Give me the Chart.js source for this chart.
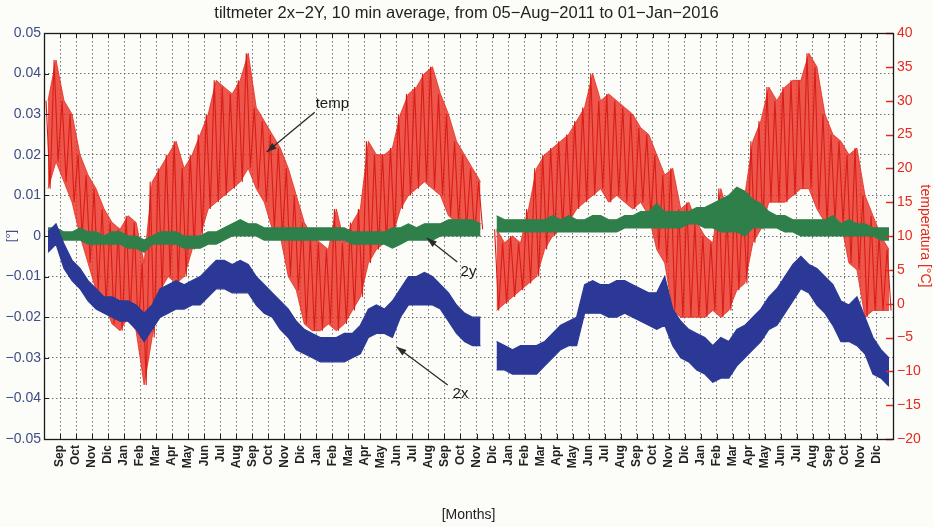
<!DOCTYPE html>
<html>
<head>
<meta charset="utf-8">
<script src="https://cdn.jsdelivr.net/npm/chart.js@4"></script>
<style>
  html, body { margin: 0; padding: 0; background: #fcfcf8; overflow: hidden; }
  #wrap { width: 933px; height: 527px; position: relative; }
</style>
</head>
<body>
<div id="wrap"><canvas id="tiltChart"></canvas></div>
<script>
// month ticks, Sep 2011 .. Dic 2015 (tick k sits at month k after Aug 2011)
const monthLabels = [
  "Sep", "Oct", "Nov", "Dic",
  "Jan", "Feb", "Mar", "Apr", "May", "Jun", "Jul", "Aug", "Sep", "Oct", "Nov", "Dic",
  "Jan", "Feb", "Mar", "Apr", "May", "Jun", "Jul", "Aug", "Sep", "Oct", "Nov", "Dic",
  "Jan", "Feb", "Mar", "Apr", "May", "Jun", "Jul", "Aug", "Sep", "Oct", "Nov", "Dic",
  "Jan", "Feb", "Mar", "Apr", "May", "Jun", "Jul", "Aug", "Sep", "Oct", "Nov", "Dic",
];

// half-month high / low readings, two per month from Aug 2011
const tempHi = [
  30, 36, 30, 28, 22, 19, 17, 14, 12, 11, 13, 12, 6, 18, 20, 22, 24, 20, 22, 25,
  28, 33, 32, 31, 33, 37, 29, 27, 25, 23, 20, 16, 12, 10, 9, 8, 14, 9, 12, 14,
  24, 22, 22, 23, 28, 31, 32, 34, 35, 31, 28, 24, 22, 20, 18, null, 11, 9, 10, 9,
  14, 20, 22, 23, 24, 25, 27, 29, 34, 30, 31, 30, 29, 28, 26, 25, 22, 19, 20, 14,
  15, 12, 10, 9, 17, 13, 17, 16, 24, 27, 32, 30, 32, 33, 33, 37, 35, 28, 25, 24,
  22, 23, 16, 13, 10, 8,
];
const tempLo = [
  17, 21, 18, 15, 10, 6, 2, 0, -3, -4, -2, -4, -12, -5, 2, 4, 3, 4, 8, 10,
  14, 15, 16, 17, 18, 20, 17, 15, 11, 10, 4, 2, -3, -4, -4, -3, -4, -3, -1, 1,
  6, 8, 9, 10, 14, 16, 17, 18, 17, 16, 13, 12, 11, 10, 11, null, -1, 0, 1, 2,
  3, 4, 8, 10, 11, 12, 14, 15, 16, 17, 15, 16, 15, 14, 15, 13, 8, 6, -1, -2,
  -2, -2, -2, -1, -2, -1, 2, 3, 9, 11, 15, 15, 15, 16, 17, 17, 14, 12, 12, 12,
  6, 5, -2, -1, -1, -1,
];
const tilt2xHi = [
  0.001, 0.003, -0.002, -0.006, -0.008, -0.011, -0.013, -0.015, -0.015, -0.016,
  -0.016, -0.017, -0.019, -0.017, -0.013, -0.012, -0.011, -0.012, -0.011, -0.010,
  -0.008, -0.006, -0.006, -0.007, -0.006, -0.007, -0.010, -0.012, -0.014, -0.016,
  -0.018, -0.021, -0.023, -0.024, -0.025, -0.025, -0.025, -0.024, -0.024, -0.022,
  -0.018, -0.017, -0.018, -0.016, -0.013, -0.010, -0.010, -0.009, -0.010, -0.012,
  -0.014, -0.017, -0.019, -0.020, -0.020, null, -0.026, -0.027, -0.028, -0.027,
  -0.027, -0.027, -0.026, -0.024, -0.022, -0.021, -0.020, -0.012, -0.011, -0.012,
  -0.012, -0.011, -0.011, -0.012, -0.013, -0.014, -0.014, -0.010, -0.018, -0.021,
  -0.023, -0.024, -0.025, -0.027, -0.025, -0.026, -0.023, -0.022, -0.020, -0.018,
  -0.015, -0.013, -0.010, -0.007, -0.005, -0.007, -0.008, -0.010, -0.012, -0.016,
  -0.017, -0.015, -0.020, -0.025, -0.028, -0.030,
];
const tilt2xLo = [
  -0.004, -0.002, -0.008, -0.011, -0.013, -0.016, -0.018, -0.019, -0.020, -0.021,
  -0.021, -0.023, -0.026, -0.023, -0.020, -0.019, -0.018, -0.018, -0.017, -0.017,
  -0.015, -0.013, -0.013, -0.014, -0.014, -0.014, -0.017, -0.019, -0.020, -0.023,
  -0.025, -0.028, -0.029, -0.030, -0.031, -0.031, -0.031, -0.031, -0.030, -0.029,
  -0.025, -0.024, -0.024, -0.025, -0.020, -0.017, -0.017, -0.017, -0.017, -0.018,
  -0.021, -0.024, -0.026, -0.027, -0.027, null, -0.033, -0.033, -0.034, -0.034,
  -0.034, -0.034, -0.032, -0.030, -0.028, -0.027, -0.027, -0.019, -0.019, -0.019,
  -0.020, -0.020, -0.019, -0.020, -0.021, -0.022, -0.023, -0.022, -0.027, -0.030,
  -0.031, -0.033, -0.034, -0.036, -0.035, -0.035, -0.032, -0.030, -0.028, -0.026,
  -0.023, -0.022, -0.019, -0.016, -0.013, -0.014, -0.017, -0.019, -0.022, -0.026,
  -0.026, -0.027, -0.029, -0.034, -0.035, -0.037,
];
const tilt2yHi = [
  0.002, 0.002, 0.001, 0.001, 0.002, 0.001, 0.001, 0.000, 0.001, 0.001,
  0.000, 0.000, -0.001, 0.000, 0.001, 0.001, 0.001, 0.000, 0.000, 0.000,
  0.001, 0.001, 0.002, 0.003, 0.004, 0.003, 0.003, 0.002, 0.002, 0.002,
  0.002, 0.002, 0.002, 0.002, 0.002, 0.002, 0.002, 0.002, 0.001, 0.001,
  0.001, 0.001, 0.001, 0.002, 0.002, 0.003, 0.002, 0.003, 0.003, 0.003,
  0.004, 0.004, 0.004, 0.004, 0.003, null, 0.005, 0.004, 0.004, 0.004,
  0.004, 0.004, 0.004, 0.005, 0.004, 0.005, 0.004, 0.004, 0.005, 0.005,
  0.004, 0.004, 0.005, 0.005, 0.006, 0.006, 0.008, 0.006, 0.006, 0.006,
  0.006, 0.007, 0.007, 0.008, 0.009, 0.010, 0.012, 0.011, 0.009, 0.008,
  0.006, 0.005, 0.005, 0.004, 0.004, 0.004, 0.004, 0.004, 0.005, 0.003,
  0.004, 0.003, 0.003, 0.002, 0.002, 0.002,
];
const tilt2yLo = [
  -0.001, -0.001, -0.001, -0.001, -0.001, -0.002, -0.002, -0.002, -0.002, -0.002,
  -0.003, -0.003, -0.004, -0.002, -0.002, -0.002, -0.002, -0.003, -0.003, -0.003,
  -0.002, -0.002, -0.001, 0.000, 0.000, 0.000, 0.000, -0.001, -0.001, -0.001,
  -0.001, -0.001, -0.001, -0.001, -0.001, -0.001, -0.001, -0.001, -0.002, -0.002,
  -0.002, -0.002, -0.002, -0.003, -0.002, -0.001, -0.001, -0.001, -0.001, 0.000,
  0.000, 0.000, 0.000, 0.000, 0.000, null, 0.001, 0.001, 0.001, 0.001,
  0.001, 0.001, 0.001, 0.001, 0.001, 0.001, 0.001, 0.001, 0.001, 0.001,
  0.001, 0.001, 0.002, 0.002, 0.002, 0.002, 0.002, 0.002, 0.002, 0.002,
  0.003, 0.003, 0.002, 0.002, 0.001, 0.001, 0.001, 0.000, 0.002, 0.002,
  0.002, 0.002, 0.001, 0.001, 0.000, 0.000, 0.000, 0.000, 0.000, 0.000,
  0.000, 0.000, 0.000, 0.000, -0.001, -0.001,
];

// arrow notes: [month, value] on the named axis
const arrowNotes = [
  { text: "temp", axis: "y2", tip: [13.9, 22.4], tail: [16.9, 28.3], label: [18.0, 29.6] },
  { text: "2y", axis: "y", tip: [23.9, -0.0005], tail: [25.8, -0.0064], label: [26.5, -0.0089] },
  { text: "2x", axis: "y", tip: [22.0, -0.0273], tail: [25.2, -0.0367], label: [26.0, -0.0390] },
];

const RED = "#e62a20";
const BLUE = "#2b3896";
const GREEN = "#2f7f4a";
const LEFT_TXT = "#3f4c86";
const FONT = "'Liberation Sans', Arial, sans-serif";

// envelope edge, one point per half month
function edge(values) {
  return values.map((v, i) => ({ x: i * 0.5 + 0.25, y: v }));
}

// high then low inside each half month, gives the spiky texture
function zigzag(hi, lo) {
  const points = [];
  hi.forEach((h, i) => {
    const t = i * 0.5 + 0.13;
    points.push({ x: t, y: h });
    points.push({ x: t + 0.25, y: lo[i] });
  });
  return points;
}

function minus(text) {
  return text.replace("-", "\u2212");
}

const frameAndTicks = {
  id: "frameAndTicks",
  afterDatasetsDraw(chart) {
    const { ctx, chartArea: a, scales } = chart;
    ctx.save();
    ctx.strokeStyle = "#1e1e1e";
    ctx.lineWidth = 1;
    ctx.beginPath();
    scales.x.ticks.forEach((t) => {
      const x = Math.round(scales.x.getPixelForValue(t.value)) + 0.5;
      ctx.moveTo(x, a.bottom); ctx.lineTo(x, a.bottom - 5);
      ctx.moveTo(x, a.top); ctx.lineTo(x, a.top + 5);
    });
    scales.y.ticks.forEach((t) => {
      const y = Math.round(scales.y.getPixelForValue(t.value)) + 0.5;
      ctx.moveTo(a.left, y); ctx.lineTo(a.left + 5, y);
    });
    ctx.stroke();

    ctx.strokeStyle = RED;
    ctx.lineWidth = 1.6;
    ctx.beginPath();
    scales.y2.ticks.forEach((t) => {
      const y = Math.round(scales.y2.getPixelForValue(t.value)) + 0.5;
      ctx.moveTo(a.right - 7, y); ctx.lineTo(a.right, y);
    });
    ctx.stroke();

    ctx.strokeStyle = "#1a1a1a";
    ctx.lineWidth = 1.3;
    ctx.strokeRect(a.left + 0.5, a.top + 0.5, a.width, a.height);
    ctx.restore();
  },
};

const notes = {
  id: "notes",
  afterDraw(chart) {
    const { ctx, scales } = chart;
    ctx.save();
    arrowNotes.forEach((n) => {
      const ys = scales[n.axis];
      const px = (p) => [scales.x.getPixelForValue(p[0]), ys.getPixelForValue(p[1])];
      const [tx, ty] = px(n.tip);
      const [sx, sy] = px(n.tail);
      const [lx, ly] = px(n.label);
      const ang = Math.atan2(ty - sy, tx - sx);
      ctx.strokeStyle = "#2a2a2a";
      ctx.fillStyle = "#2a2a2a";
      ctx.lineWidth = 1.3;
      ctx.beginPath();
      ctx.moveTo(sx, sy);
      ctx.lineTo(tx, ty);
      ctx.stroke();
      ctx.beginPath();
      ctx.moveTo(tx, ty);
      ctx.lineTo(tx - 10 * Math.cos(ang) + 3.5 * Math.sin(ang), ty - 10 * Math.sin(ang) - 3.5 * Math.cos(ang));
      ctx.lineTo(tx - 10 * Math.cos(ang) - 3.5 * Math.sin(ang), ty - 10 * Math.sin(ang) + 3.5 * Math.cos(ang));
      ctx.closePath();
      ctx.fill();
      ctx.fillStyle = "#1a1a1a";
      ctx.font = "15px " + FONT;
      ctx.textAlign = "center";
      ctx.textBaseline = "middle";
      ctx.fillText(n.text, lx, ly);
    });
    ctx.restore();
  },
};

new Chart(document.getElementById("tiltChart"), {
  type: "line",
  data: {
    datasets: [
      {
        label: "2x",
        data: edge(tilt2xHi),
        yAxisID: "y",
        borderColor: BLUE,
        backgroundColor: BLUE,
        borderWidth: 1.2,
        fill: "+1",
        order: 1,
      },
      {
        label: "2x low",
        data: edge(tilt2xLo),
        yAxisID: "y",
        borderColor: BLUE,
        borderWidth: 1.2,
        fill: false,
        order: 1,
      },
      {
        label: "2y",
        data: edge(tilt2yHi),
        yAxisID: "y",
        borderColor: GREEN,
        backgroundColor: GREEN,
        borderWidth: 1.2,
        fill: "+1",
        order: 2,
      },
      {
        label: "2y low",
        data: edge(tilt2yLo),
        yAxisID: "y",
        borderColor: GREEN,
        borderWidth: 1.2,
        fill: false,
        order: 2,
      },
      {
        label: "temp spikes",
        data: zigzag(tempHi, tempLo),
        yAxisID: "y2",
        borderColor: "#d81e16",
        borderWidth: 1.1,
        fill: false,
        order: 3,
      },
      {
        label: "temp",
        data: edge(tempHi),
        yAxisID: "y2",
        borderColor: "rgba(230,42,32,0.8)",
        backgroundColor: "rgba(234,44,32,0.8)",
        borderWidth: 1,
        fill: "+1",
        order: 4,
      },
      {
        label: "temp low",
        data: edge(tempLo),
        yAxisID: "y2",
        borderColor: "rgba(230,42,32,0.8)",
        borderWidth: 1,
        fill: false,
        order: 4,
      },
    ],
  },
  options: {
    responsive: true,
    maintainAspectRatio: false,
    animation: false,
    spanGaps: false,
    elements: { point: { radius: 0 }, line: { tension: 0 } },
    layout: { padding: 0 },
    plugins: {
      legend: { display: false },
      tooltip: { enabled: false },
      title: {
        display: true,
        text: "tiltmeter 2x\u22122Y, 10 min average, from 05\u2212Aug\u22122011 to 01\u2212Jan\u22122016",
        color: "#222",
        font: { family: FONT, size: 16.5, weight: "normal" },
        padding: { top: 4, bottom: 9.2 },
      },
    },
    scales: {
      x: {
        type: "linear",
        min: 0,
        max: 53,
        afterBuildTicks: (scale) => {
          scale.ticks = monthLabels.map((_, k) => ({ value: k + 1 }));
        },
        afterFit: (scale) => { scale.height = 88; },
        ticks: {
          autoSkip: false,
          minRotation: 90,
          maxRotation: 90,
          padding: 6,
          color: "#222",
          font: { family: FONT, size: 12, weight: "bold" },
          callback: (v) => monthLabels[v - 1],
        },
        grid: {
          color: "rgba(70,70,70,0.75)",
          lineWidth: 1,
          drawTicks: false,
        },
        border: { display: false, dash: [1.5, 2.5] },
        title: {
          display: true,
          text: "[Months]",
          color: "#222",
          font: { family: FONT, size: 14 },
          padding: { top: 0, bottom: 3.5 },
        },
      },
      y: {
        position: "left",
        min: -0.05,
        max: 0.05,
        afterFit: (scale) => { scale.width = 44; },
        ticks: {
          stepSize: 0.01,
          padding: 3,
          color: LEFT_TXT,
          font: { family: FONT, size: 14 },
          callback: (v) => {
            const r = Math.round(v * 100) / 100;
            return r === 0 ? "0" : minus(r.toFixed(2));
          },
        },
        grid: {
          color: "rgba(70,70,70,0.75)",
          lineWidth: 1,
          drawTicks: false,
        },
        border: { display: false, dash: [1.5, 2.5] },
        title: {
          display: true,
          text: "[\u00b0]",
          color: LEFT_TXT,
          font: { family: FONT, size: 13 },
          padding: { top: 4, bottom: 0 },
        },
      },
      y2: {
        position: "right",
        min: -20,
        max: 40,
        afterFit: (scale) => { scale.width = 40; },
        ticks: {
          stepSize: 5,
          padding: 4,
          color: RED,
          font: { family: FONT, size: 14 },
          callback: (v) => minus(String(v)),
        },
        grid: { display: false, drawTicks: false },
        border: { display: false },
        title: {
          display: true,
          text: "temperatura [\u00b0C]",
          color: RED,
          font: { family: FONT, size: 14 },
          padding: { top: 0, bottom: 0 },
        },
      },
    },
  },
  plugins: [frameAndTicks, notes],
});
</script>
</body>
</html>
